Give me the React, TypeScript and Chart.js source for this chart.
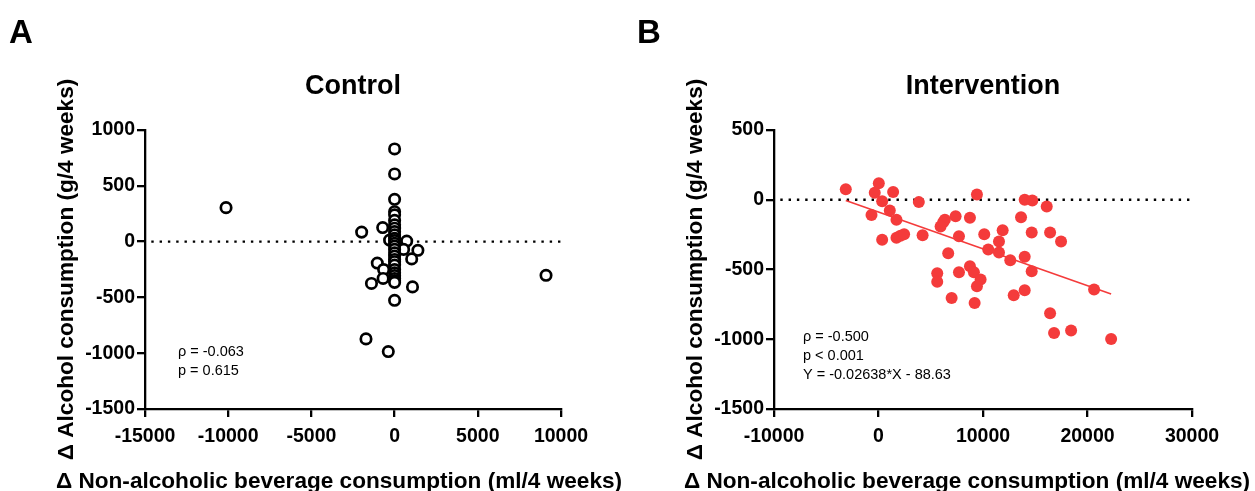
import React, { useEffect, useRef } from "react";
import { Chart, registerables } from "chart.js";

Chart.register(...registerables);

const FONT = "'Liberation Sans', Arial, Helvetica, sans-serif";

// ---------- Panel A: Control ----------
const controlX = [
  -10130, 9100, -1980, -716, -300, 727, 540, 1400, 1027, -1040, -660, -690, -1390, 1076, -1719, -379,
  0, 0, 0, 0, 0, 0, 0, 0, 0, 0, 0, 0, 0, 0, 0, 0, 0, 0, 0, 0, 0, 0, 0, 0, 0, 0, 0,
];
const controlY = [
  304, -302, 85, 126, 14, 5, -70, -78, -155, -192, -250, -330, -375, -406, -872, -985,
  830, 606, 379, 268, 240, 190, 150, 120, 89, 60, 30, 10, -15, -40, -70, -100, -130, -160, -180, -210,
  -250, -280, -305, -330, -350, -365, -526,
];
const controlXTicks = [-15000, -10000, -5000, 0, 5000, 10000];
const controlYTicks = [-1500, -1000, -500, 0, 500, 1000];
const controlStats = ["ρ = -0.063", "p = 0.615"];

// ---------- Panel B: Intervention ----------
const interventionX = [
  -3130, 30, -360, 1400, 350, -670, 1080, 1720, 350, 1720, 2100, 2450, 3860, 4220, 6350, 6190, 5940,
  7380, 8750, 9420, 7700, 6670, 5620, 5620, 7700, 7000, 8750, 9130, 9770, 9420, 9200, 10120, 10500,
  11880, 11530, 11530, 12610, 12940, 13990, 14720, 13640, 14660, 13990, 14660, 13990, 16100, 16420,
  17470, 16420, 16800, 18430, 20630, 22260,
];
const interventionY = [
  76, 119, 50, 55, -10, -110, -77, -144, -287, -273, -258, -247, -17, -254, -144, -161, -192,
  -118, -129, 38, -261, -383, -527, -587, -520, -704, -476, -520, -572, -620, -740, -247, -357,
  -218, -299, -378, -433, -685, 0, -5, -125, -235, -409, -512, -649, -48, -235,
  -299, -814, -955, -938, -644, -998,
];
const interventionXTicks = [-10000, 0, 10000, 20000, 30000];
const interventionYTicks = [-1500, -1000, -500, 0, 500];
const regressionSlope = -0.02638;
const regressionIntercept = -88.63;
const interventionStats = ["ρ = -0.500", "p < 0.001", "Y = -0.02638*X - 88.63"];

const X_TITLE = "Δ Non-alcoholic beverage consumption (ml/4 weeks)";
const Y_TITLE = "Δ Alcohol consumption (g/4 weeks)";

const H = 491;
const X_AXIS_H = 40;

type PanelCfg = {
  canvasLeft: number;
  width: number;
  area: { left: number; right: number; top: number; bottom: number };
  xTicks: number[];
  yTicks: number[];
  letter: string;
  letterX: number;
  title: string;
  stats: string[];
  statsX: number;
  statsY: number;
  xTitleCenter: number;
  yTitlePad: number;
  datasets: any[];
};

function makeChart(canvas: HTMLCanvasElement, cfg: PanelCfg) {
  const { canvasLeft, width, area } = cfg;
  const xMin = cfg.xTicks[0];
  const xMax = cfg.xTicks[cfg.xTicks.length - 1];
  const yMin = cfg.yTicks[0];
  const yMax = cfg.yTicks[cfg.yTicks.length - 1];
  const xStep = cfg.xTicks[1] - cfg.xTicks[0];
  const yStep = cfg.yTicks[1] - cfg.yTicks[0];

  const textPlugin = {
    id: "panelText",
    afterDraw(chart: any) {
      const ctx = chart.ctx as CanvasRenderingContext2D;
      const ca = chart.chartArea;
      ctx.save();
      ctx.fillStyle = "#000";
      // panel letter
      ctx.font = `bold 33px ${FONT}`;
      ctx.textAlign = "left";
      ctx.textBaseline = "alphabetic";
      ctx.fillText(cfg.letter, cfg.letterX - canvasLeft, 43);
      // title
      ctx.font = `bold 27px ${FONT}`;
      ctx.textAlign = "center";
      ctx.fillText(cfg.title, (ca.left + ca.right) / 2, 94);
      // x-axis title
      ctx.font = `bold 22.6px ${FONT}`;
      ctx.fillText(X_TITLE, cfg.xTitleCenter - canvasLeft, 488);
      // stats
      ctx.font = `14.5px ${FONT}`;
      ctx.textAlign = "left";
      ctx.textBaseline = "middle";
      cfg.stats.forEach((s, i) => {
        ctx.fillText(s, cfg.statsX - canvasLeft, cfg.statsY + i * 18.8);
      });
      ctx.restore();
    },
  };

  const tickFont = { family: FONT, size: 19.5, weight: "bold" as const };

  return new Chart(canvas, {
    type: "scatter",
    data: { datasets: cfg.datasets },
    plugins: [textPlugin],
    options: {
      animation: false,
      responsive: false,
      maintainAspectRatio: false,
      layout: {
        padding: {
          left: 0,
          top: area.top,
          right: width - (area.right - canvasLeft),
          bottom: H - area.bottom - X_AXIS_H,
        },
      },
      plugins: {
        legend: { display: false },
        tooltip: { enabled: false },
        title: { display: false },
      },
      scales: {
        x: {
          type: "linear",
          position: "bottom",
          min: xMin,
          max: xMax,
          afterBuildTicks: (s: any) => {
            s.ticks = cfg.xTicks.map((v) => ({ value: v }));
          },
          ticks: {
            stepSize: xStep,
            color: "#000",
            font: tickFont,
            padding: 8,
            maxRotation: 0,
            autoSkip: false,
            callback: (v: any) => String(v),
          },
          grid: {
            display: true,
            drawOnChartArea: false,
            drawTicks: true,
            tickLength: 8,
            color: "#000",
            lineWidth: 2.3,
          },
          border: { display: true, color: "#000", width: 2.3 },
          afterFit: (s: any) => {
            s.height = X_AXIS_H;
          },
        },
        y: {
          type: "linear",
          position: "left",
          min: yMin,
          max: yMax,
          afterBuildTicks: (s: any) => {
            s.ticks = cfg.yTicks.map((v) => ({ value: v }));
          },
          ticks: {
            stepSize: yStep,
            color: "#000",
            font: tickFont,
            padding: 2,
            autoSkip: false,
            callback: (v: any) => String(v),
          },
          grid: {
            display: true,
            drawOnChartArea: false,
            drawTicks: true,
            tickLength: 8,
            color: "#000",
            lineWidth: 2.3,
          },
          border: { display: true, color: "#000", width: 2.3 },
          title: {
            display: true,
            text: Y_TITLE,
            color: "#000",
            font: { family: FONT, size: 22.6, weight: "bold" },
            padding: { top: cfg.yTitlePad, bottom: 0 },
          },
          afterFit: (s: any) => {
            s.width = area.left - canvasLeft;
          },
        },
      },
    },
  } as any);
}

function zeroLine(xMin: number, xMax: number, offset: number) {
  return {
    type: "line",
    data: [
      { x: xMin, y: 0 },
      { x: xMax, y: 0 },
    ],
    borderColor: "#000",
    borderWidth: 2.4,
    borderDash: [2.4, 5.9],
    borderDashOffset: offset,
    pointRadius: 0,
    fill: false,
  };
}

const RED = "#F43B3B";

export default function App() {
  const refA = useRef<HTMLCanvasElement>(null);
  const refB = useRef<HTMLCanvasElement>(null);

  useEffect(() => {
    const cfgA: PanelCfg = {
      canvasLeft: 0,
      width: 627,
      area: { left: 145, right: 561, top: 130, bottom: 409 },
      xTicks: controlXTicks,
      yTicks: controlYTicks,
      letter: "A",
      letterX: 9,
      title: "Control",
      stats: controlStats,
      statsX: 178,
      statsY: 352,
      xTitleCenter: 339,
      yTitlePad: 53,
      datasets: [
        {
          data: controlX.map((x, i) => ({ x, y: controlY[i] })),
          backgroundColor: "#fff",
          borderColor: "#000",
          borderWidth: 2.7,
          pointRadius: 5.2,
          pointHoverRadius: 5.2,
        },
        zeroLine(controlXTicks[0], controlXTicks[controlXTicks.length - 1], 2),
      ],
    };
    const xs = interventionX;
    const rMin = Math.min(...xs);
    const rMax = Math.max(...xs);
    const cfgB: PanelCfg = {
      canvasLeft: 627,
      width: 628,
      area: { left: 774, right: 1192, top: 130, bottom: 409 },
      xTicks: interventionXTicks,
      yTicks: interventionYTicks,
      letter: "B",
      letterX: 637,
      title: "Intervention",
      stats: interventionStats,
      statsX: 803,
      statsY: 337,
      xTitleCenter: 967,
      yTitlePad: 55,
      datasets: [
        {
          data: interventionX.map((x, i) => ({ x, y: interventionY[i] })),
          backgroundColor: RED,
          borderColor: RED,
          borderWidth: 0,
          pointRadius: 6,
          pointHoverRadius: 6,
        },
        {
          type: "line",
          data: [
            { x: rMin, y: regressionSlope * rMin + regressionIntercept },
            { x: rMax, y: regressionSlope * rMax + regressionIntercept },
          ],
          borderColor: RED,
          borderWidth: 1.6,
          pointRadius: 0,
          fill: false,
        },
        zeroLine(interventionXTicks[0], interventionXTicks[interventionXTicks.length - 1], 2),
      ],
    };
    const a = makeChart(refA.current!, cfgA);
    const b = makeChart(refB.current!, cfgB);
    return () => {
      a.destroy();
      b.destroy();
    };
  }, []);

  return (
    <div style={{ position: "fixed", left: 0, top: 0, width: 1255, height: H, background: "#fff" }}>
      <canvas
        ref={refA}
        width={627}
        height={H}
        style={{ position: "absolute", left: 0, top: 0, width: 627, height: H }}
      />
      <canvas
        ref={refB}
        width={628}
        height={H}
        style={{ position: "absolute", left: 627, top: 0, width: 628, height: H }}
      />
    </div>
  );
}
